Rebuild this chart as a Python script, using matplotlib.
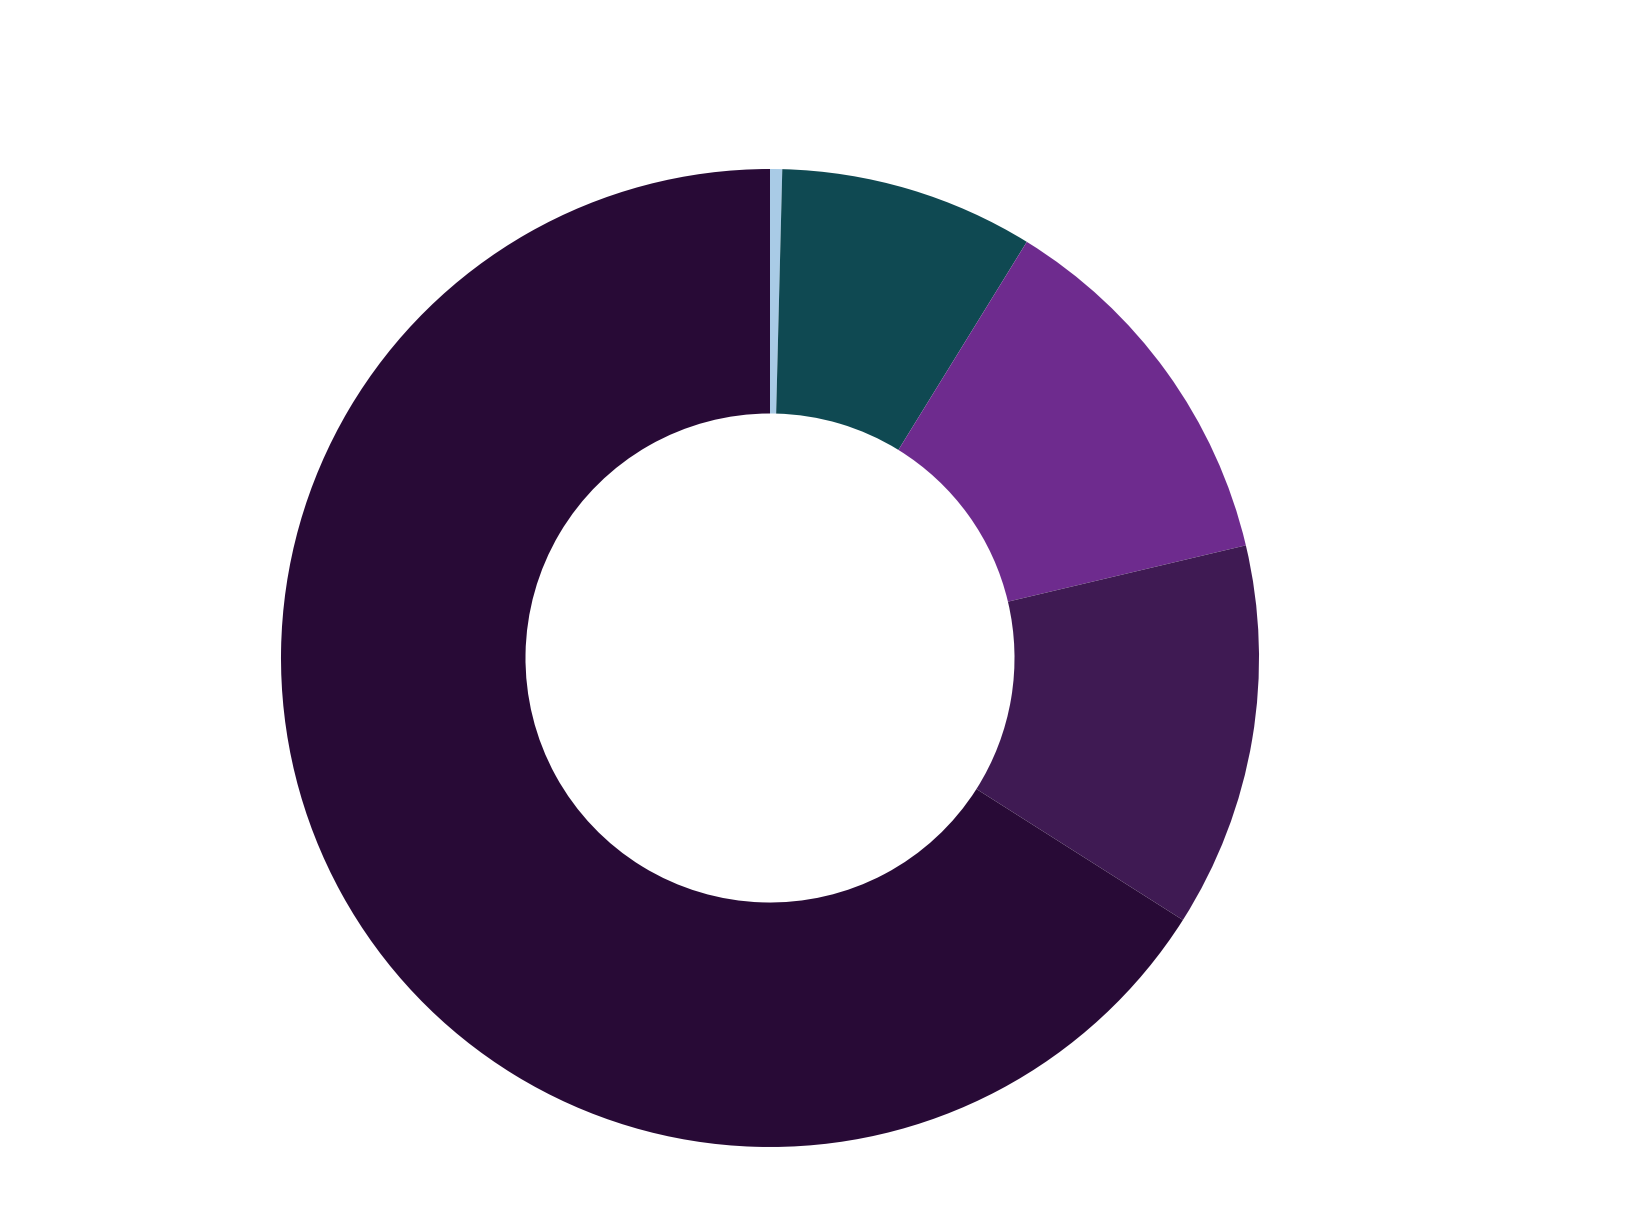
import matplotlib
matplotlib.use('Agg')
import matplotlib.pyplot as plt

# shares, clockwise from 12 o'clock
labels = ["A", "B", "C", "D", "E"]
values = [0.4, 8.4, 12.5, 12.7, 66.0]
colors = ["#a9cbe6", "#0f4952", "#6e2b8e", "#3f1a53", "#280a36"]

fig = plt.figure(figsize=(16.32, 12.24), dpi=100)
cx, cy, r = 770, 658, 489
W, H = 1632, 1224
ax = fig.add_axes([(cx - r) / W, (H - cy - r) / H, 2 * r / W, 2 * r / H])

ax.pie(values, colors=colors, startangle=90, counterclock=False,
       radius=1.0, wedgeprops=dict(width=0.5, edgecolor="none"))
ax.set_xlim(-1, 1)
ax.set_ylim(-1, 1)
ax.set_aspect("equal")
ax.axis("off")

fig.savefig("out.png", dpi=100, facecolor="white")
